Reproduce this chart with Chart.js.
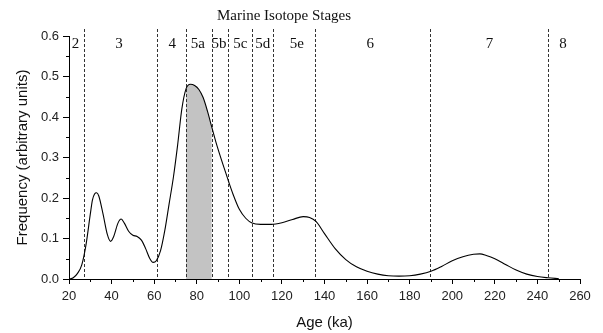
<!DOCTYPE html>
<html>
<head>
<meta charset="utf-8">
<script src="https://cdn.jsdelivr.net/npm/chart.js@4.4.1/dist/chart.umd.min.js"></script>
<style>
  html, body { margin: 0; padding: 0; background: #fff; }
</style>
</head>
<body>
<canvas id="chart" width="603" height="333"></canvas>
<script>
// age (ka) and relative frequency
const ages = [20, 22, 24, 26, 28, 30, 31, 32, 33, 34, 36, 38, 39.5, 41, 43, 44.5, 46, 48, 50, 52, 54, 56, 58, 59.5,
  61, 63, 65, 67, 69, 71, 73, 75, 77, 79, 81, 83, 85, 87, 89, 91, 93, 95, 97, 100, 103, 106, 110, 115, 120, 125,
  130, 133, 136, 140, 145, 150, 155, 160, 165, 170, 175, 180, 185, 190, 195, 200, 205, 210, 213, 216, 220, 225,
  230, 235, 240, 245, 250];
const freq = [0.000, 0.003, 0.014, 0.035, 0.085, 0.160, 0.195, 0.210, 0.213, 0.205, 0.160, 0.110, 0.093, 0.105,
  0.138, 0.148, 0.138, 0.118, 0.108, 0.105, 0.096, 0.075, 0.050, 0.041, 0.045, 0.070, 0.120, 0.185, 0.250, 0.330,
  0.420, 0.470, 0.481, 0.478, 0.468, 0.448, 0.415, 0.376, 0.338, 0.304, 0.272, 0.240, 0.210, 0.172, 0.150, 0.138,
  0.135, 0.135, 0.139, 0.147, 0.154, 0.152, 0.142, 0.112, 0.075, 0.048, 0.030, 0.019, 0.012, 0.008, 0.007, 0.008,
  0.012, 0.019, 0.031, 0.045, 0.055, 0.061, 0.062, 0.058, 0.050, 0.036, 0.022, 0.012, 0.006, 0.003, 0.001];

// marine isotope stage boundaries (ka) and labels
const stageBounds = [27, 61.5, 75, 87, 94.5, 106, 116, 135.5, 189.5, 245];
const stageNames = ["2", "3", "4", "5a", "5b", "5c", "5d", "5e", "6", "7", "8"];
const stageLabelAt = [23, 43.5, 68.5, 80.5, 90.5, 100.5, 111, 127, 161.5, 217.5, 252];
const stageTitle = "Marine Isotope Stages";
const stageTitleAt = 121;
const shadeFrom = 75, shadeTo = 87;

const points = ages.map((a, i) => ({ x: a, y: freq[i] }));

const stagePlugin = {
  id: "stages",
  beforeDatasetsDraw(chart) {
    const ctx = chart.ctx;
    const x = chart.scales.x, y = chart.scales.y;
    const area = chart.chartArea;
    const line = chart.getDatasetMeta(0).dataset;
    line.updateControlPoints(area, "x");

    // grey band under the curve (5a)
    const x0 = x.getPixelForValue(shadeFrom), x1 = x.getPixelForValue(shadeTo);
    const pts = line.points;
    ctx.save();
    ctx.beginPath();
    ctx.rect(x0, area.top, x1 - x0, area.bottom - area.top);
    ctx.clip();
    ctx.beginPath();
    line.path(ctx);
    ctx.lineTo(pts[pts.length - 1].x, y.getPixelForValue(0));
    ctx.lineTo(pts[0].x, y.getPixelForValue(0));
    ctx.closePath();
    ctx.fillStyle = "#c3c3c3";
    ctx.fill();
    ctx.restore();

    // dashed boundaries
    ctx.save();
    ctx.strokeStyle = "#333";
    ctx.lineWidth = 1;
    ctx.setLineDash([3, 2]);
    stageBounds.forEach(b => {
      const px = Math.round(x.getPixelForValue(b)) + 0.5;
      ctx.beginPath();
      ctx.moveTo(px, area.top - 7);
      ctx.lineTo(px, area.bottom);
      ctx.stroke();
    });
    ctx.restore();

    // labels
    ctx.save();
    ctx.fillStyle = "#111";
    ctx.font = "15px 'Liberation Serif'";
    ctx.textAlign = "center";
    ctx.textBaseline = "alphabetic";
    stageNames.forEach((n, i) => {
      ctx.fillText(n, x.getPixelForValue(stageLabelAt[i]), area.top + 12);
    });
    ctx.fillText(stageTitle, x.getPixelForValue(stageTitleAt), area.top - 16);
    ctx.restore();
  },
  afterDraw(chart) {
    // minor ticks halfway between labelled ticks
    const ctx = chart.ctx;
    const x = chart.scales.x, y = chart.scales.y;
    const area = chart.chartArea;
    ctx.save();
    ctx.strokeStyle = "#000";
    ctx.lineWidth = 1;
    const xt = x.ticks;
    for (let i = 0; i < xt.length - 1; i++) {
      const px = Math.round(x.getPixelForValue((xt[i].value + xt[i + 1].value) / 2)) + 0.5;
      ctx.beginPath();
      ctx.moveTo(px, area.bottom);
      ctx.lineTo(px, area.bottom + 3);
      ctx.stroke();
    }
    const yt = y.ticks;
    for (let i = 0; i < yt.length - 1; i++) {
      const py = Math.round(y.getPixelForValue((yt[i].value + yt[i + 1].value) / 2)) + 0.5;
      ctx.beginPath();
      ctx.moveTo(area.left, py);
      ctx.lineTo(area.left - 3, py);
      ctx.stroke();
    }
    ctx.restore();
  }
};

new Chart(document.getElementById("chart"), {
  type: "line",
  data: {
    datasets: [{
      data: points,
      borderColor: "#000",
      borderWidth: 1.1,
      pointRadius: 0,
      fill: false,
      cubicInterpolationMode: "monotone"
    }]
  },
  options: {
    responsive: false,
    animation: false,
    layout: { padding: { top: 36, right: 23, left: 0, bottom: 0 } },
    plugins: { legend: { display: false }, tooltip: { enabled: false } },
    scales: {
      x: {
        type: "linear",
        min: 20,
        max: 260,
        afterFit(scale) { scale.height = 54; },
        ticks: { stepSize: 20, color: "#222", font: { family: "'Liberation Sans'", size: 13 }, padding: 5, maxRotation: 0 },
        grid: { drawOnChartArea: false, drawTicks: true, tickLength: 5, color: "#000" },
        border: { color: "#000", width: 1 },
        title: { display: true, text: "Age (ka)", color: "#111", font: { family: "'Liberation Sans'", size: 15 }, padding: { top: 0, bottom: 1 } }
      },
      y: {
        min: 0,
        max: 0.6,
        afterFit(scale) { scale.width = 69; },
        ticks: { stepSize: 0.1, color: "#222", font: { family: "'Liberation Sans'", size: 13 }, padding: 4,
          callback: v => v.toFixed(1) },
        grid: { drawOnChartArea: false, drawTicks: true, tickLength: 6, color: "#000" },
        border: { color: "#000", width: 1 },
        title: { display: true, text: "Frequency (arbitrary units)", color: "#111", font: { family: "'Liberation Sans'", size: 15 }, padding: { top: 14, bottom: 0 } }
      }
    }
  },
  plugins: [stagePlugin]
});
</script>
</body>
</html>
